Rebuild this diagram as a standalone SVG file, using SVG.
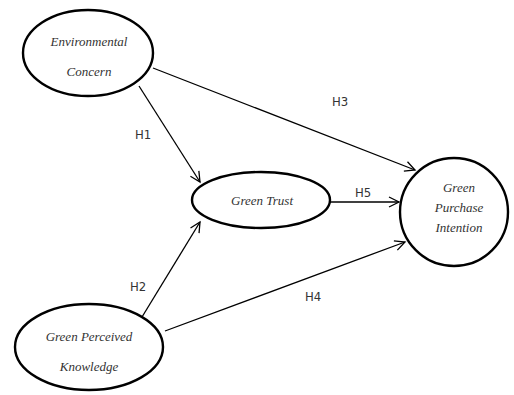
<svg xmlns="http://www.w3.org/2000/svg" width="514" height="395" viewBox="0 0 514 395">
<style>
.node{fill:#fff;stroke:#000;stroke-width:2.4}
.nt{font-family:'Liberation Serif','DejaVu Serif',serif;font-style:italic;font-size:13px;fill:#333;text-anchor:middle}
.lbl{font-family:'Liberation Sans Narrow','DejaVu Sans Condensed','Liberation Sans',sans-serif;font-size:13px;fill:#333;text-anchor:middle}
.edge{stroke:#000;stroke-width:1.3;fill:none;marker-end:url(#arr)}
</style>
<defs>
<marker id="arr" markerUnits="userSpaceOnUse" markerWidth="14" markerHeight="14" refX="11" refY="6" orient="auto">
<path d="M1,1 L11,6 L1,11" fill="none" stroke="#000" stroke-width="1.3"/>
</marker>
</defs>
<rect width="514" height="395" fill="#fff"/>
<g id="connectors">
<line class="edge" x1="139" y1="86" x2="200" y2="182"/>
<line class="edge" x1="153" y1="68" x2="415" y2="170"/>
<line class="edge" x1="330" y1="202" x2="399" y2="202"/>
<line class="edge" x1="142" y1="317" x2="200" y2="222"/>
<line class="edge" x1="165" y1="331" x2="405" y2="242"/>
<text class="lbl" x="143" y="139">H1</text>
<text class="lbl" x="340" y="106">H3</text>
<text class="lbl" x="363" y="197">H5</text>
<text class="lbl" x="138" y="291">H2</text>
<text class="lbl" x="313" y="301">H4</text>
</g>
<g id="environmental-concern">
<ellipse class="node" cx="88" cy="53" rx="65" ry="43"/>
<text class="nt" x="89" y="46">Environmental</text>
<text class="nt" x="89" y="76">Concern</text>
</g>
<g id="green-trust">
<ellipse class="node" cx="261" cy="200" rx="69" ry="28"/>
<text class="nt" x="262" y="205">Green Trust</text>
</g>
<g id="green-purchase-intention">
<circle class="node" cx="454" cy="212" r="54"/>
<text class="nt" x="459" y="192">Green</text>
<text class="nt" x="459" y="212">Purchase</text>
<text class="nt" x="459" y="232">Intention</text>
</g>
<g id="green-perceived-knowledge">
<ellipse class="node" cx="89" cy="347" rx="74" ry="43"/>
<text class="nt" x="89" y="341">Green Perceived</text>
<text class="nt" x="89" y="371">Knowledge</text>
</g>
</svg>
